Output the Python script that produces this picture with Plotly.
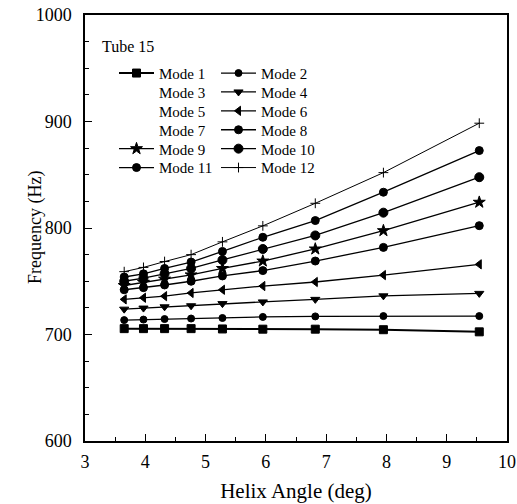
import plotly.graph_objects as go

angle = [3.65, 3.97, 4.32, 4.76, 5.28, 5.95, 6.82, 7.95, 9.54]
mode1 = [705.5, 705.5, 705.5, 705.5, 705.2, 705.0, 705.0, 704.5, 702.5]
mode2 = [713.5, 714.0, 714.5, 715.0, 715.5, 716.5, 717.0, 717.3, 717.3]
mode3 = [None] * 9
mode4 = [723.8, 724.8, 726.0, 727.0, 729.0, 730.6, 733.0, 736.3, 738.6]
mode5 = [None] * 9
mode6 = [733.0, 734.5, 736.0, 739.0, 742.0, 745.5, 749.3, 755.8, 765.9]
mode7 = [None] * 9
mode8 = [742.0, 744.0, 746.5, 750.0, 755.0, 760.0, 769.0, 781.8, 802.2]
mode9 = [746.0, 749.0, 752.0, 756.0, 762.0, 769.0, 780.3, 797.5, 824.2]
mode10 = [750.0, 753.0, 757.0, 762.0, 770.0, 780.3, 793.0, 814.4, 847.7]
mode11 = [754.0, 757.0, 762.0, 768.0, 778.0, 791.3, 807.0, 833.6, 872.7]
mode12 = [759.0, 763.0, 768.5, 775.0, 787.0, 802.0, 823.2, 852.0, 898.4]

names = ["Mode %d" % i for i in range(1, 13)]
series = [mode1, mode2, mode3, mode4, mode5, mode6, mode7, mode8, mode9, mode10, mode11, mode12]
symbols = ["square", "circle", None, "triangle-down", None, "triangle-left", None,
           "circle", "star", "circle", "circle", "cross-thin-open"]
sizes = [8, 7, 0, 8, 0, 8, 0, 8, 9, 9, 8, 7]
lwidth = [2.0, 1.2, 0, 1.3, 0, 1.3, 0, 1.3, 1.3, 1.3, 1.3, 1.0]

FONT = "Liberation Serif"
W, H = 517, 504
ML, MR, MT, MB = 85, 10, 15, 63
PW, PH = W - ML - MR, H - MT - MB

fig = go.Figure()
for i, (nm, ys) in enumerate(zip(names, series)):
    row = i // 2
    leg = "legend" if row == 0 else "legend%d" % (row + 1)
    if symbols[i] is None:
        fig.add_trace(go.Scatter(x=angle, y=ys, name=nm, mode="lines",
                                 line=dict(width=0, color="rgba(0,0,0,0)"),
                                 legend=leg))
    else:
        fig.add_trace(go.Scatter(
            x=angle, y=ys, name=nm, mode="lines+markers",
            line=dict(color="black", width=lwidth[i]),
            marker=dict(symbol=symbols[i], size=sizes[i], color="black",
                        line=dict(color="black", width=1)),
            legend=leg))

axis_common = dict(
    showline=True, linecolor="black", linewidth=1.5, mirror=True,
    showgrid=False, zeroline=False, automargin=False,
    ticks="inside", ticklen=7, tickwidth=1.3, tickcolor="black",
    tickfont=dict(family=FONT, size=18, color="black"),
)

def px_x(p):
    return (p - ML) / PW

def px_y(p):
    return (MT + PH - p) / PH

legends = {}
row_y = [73.3, 92.2, 111.1, 130.0, 148.9, 167.8]
for r, ypx in enumerate(row_y):
    key = "legend" if r == 0 else "legend%d" % (r + 1)
    legends[key] = dict(
        orientation="h", x=px_x(114), y=px_y(ypx),
        xanchor="left", yanchor="middle",
        font=dict(family=FONT, size=15, color="black"), bgcolor="rgba(0,0,0,0)",
        itemwidth=35, entrywidth=52, entrywidthmode="pixels", tracegroupgap=0,
    )

fig.update_layout(
    width=W, height=H,
    margin=dict(l=ML, r=MR, t=MT, b=MB),
    paper_bgcolor="white", plot_bgcolor="white",
    font=dict(family=FONT, color="black"),
    xaxis=dict(range=[3, 10], dtick=1, tick0=3,
               minor=dict(ticks="inside", ticklen=4, dtick=0.5, tickcolor="black", tickwidth=1),
               title=dict(text="Helix Angle (deg)", font=dict(family=FONT, size=21), standoff=12),
               ticklabelstandoff=4,
               **axis_common),
    yaxis=dict(range=[600, 1000], dtick=100, tick0=600,
               minor=dict(ticks="inside", ticklen=4, dtick=25, tickcolor="black", tickwidth=1),
               ticklabelstandoff=8,
               **axis_common),
    annotations=[
        dict(text="Tube 15", x=px_x(100), y=px_y(46), xref="paper", yref="paper",
             xanchor="left", yanchor="middle", showarrow=False,
             font=dict(family=FONT, size=16)),
        dict(text="Frequency (Hz)", textangle=-90, x=px_x(35), y=0.5,
             xref="paper", yref="paper", xanchor="center", yanchor="middle",
             showarrow=False, font=dict(family=FONT, size=18)),
    ],
    **legends,
)

# remove the default page margin so the figure fills the window exactly
fig.write_html("out.html", config={"displayModeBar": False},
               post_script="document.body.style.margin='0';")
